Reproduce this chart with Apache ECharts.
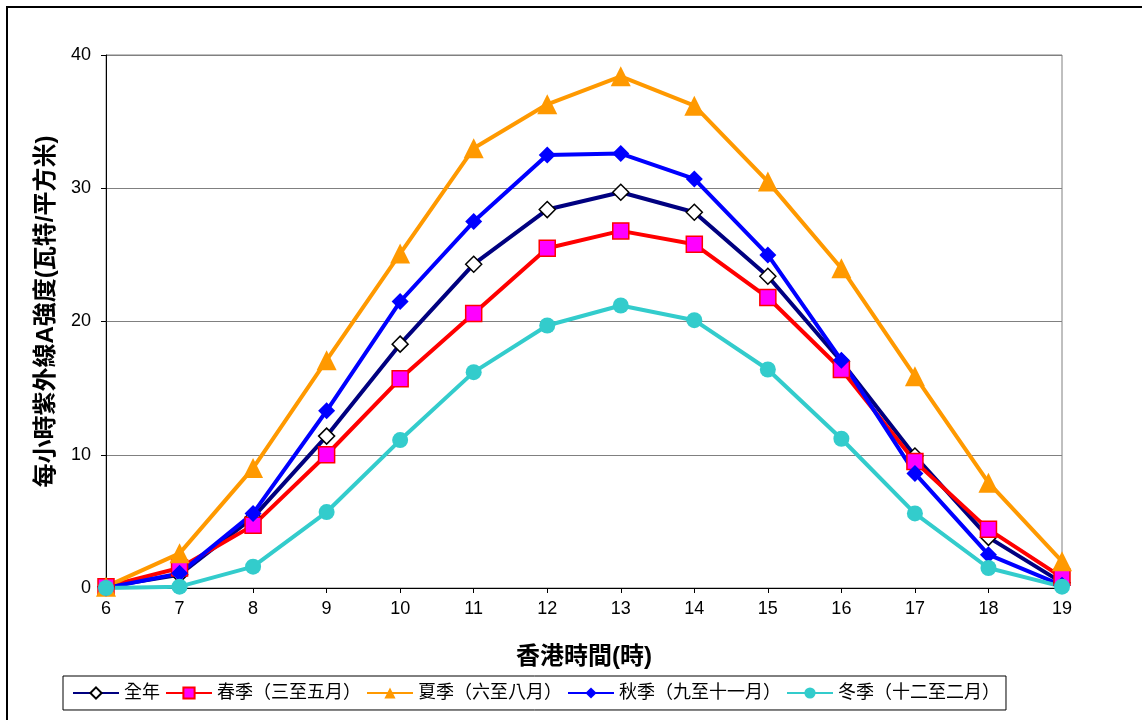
<!DOCTYPE html>
<html>
<head>
<meta charset="utf-8">
<script src="https://cdn.jsdelivr.net/npm/echarts@6/dist/echarts.min.js"></script>
<style>
html,body{margin:0;padding:0;background:#fff;}
#chart{width:1142px;height:720px;}
</style>
</head>
<body>
<div id="chart"></div>
<script>
const hours = ['6','7','8','9','10','11','12','13','14','15','16','17','18','19'];
const seriesNames = ['全年','春季（三至五月）','夏季（六至八月）','秋季（九至十一月）','冬季（十二至二月）'];
const annual = [0.1, 1.0, 5.3, 11.4, 18.3, 24.3, 28.4, 29.7, 28.2, 23.4, 17.0, 9.9, 3.8, 0.4];
const spring = [0.1, 1.5, 4.7, 10.0, 15.7, 20.6, 25.5, 26.8, 25.8, 21.8, 16.4, 9.5, 4.4, 0.8];
const summer = [0.1, 2.6, 9.0, 17.1, 25.1, 33.0, 36.3, 38.4, 36.2, 30.5, 24.0, 15.9, 7.9, 2.0];
const autumn = [0.0, 1.1, 5.6, 13.3, 21.5, 27.5, 32.5, 32.6, 30.7, 25.0, 17.1, 8.6, 2.5, 0.2];
const winter = [0.0, 0.1, 1.6, 5.7, 11.1, 16.2, 19.7, 21.2, 20.1, 16.4, 11.2, 5.6, 1.5, 0.1];
const yTicks = [0, 10, 20, 30, 40];
const xTitle = '香港時間(時)';
const yTitle = '每小時紫外線A強度(瓦特/平方米)';

const FONT = '"Liberation Sans", Arial, "Noto Sans CJK TC", sans-serif';

function mk(name, data, lineColor, symbol, size, fill, border) {
  return {
    name: name, type: 'line', data: data, clip: false,
    symbol: symbol, symbolSize: size,
    lineStyle: {color: lineColor, width: 4},
    itemStyle: {color: fill, borderColor: border, borderWidth: border === fill ? 0 : 1.5},
    emphasis: {disabled: true}
  };
}

const chart = echarts.init(document.getElementById('chart'), null, {renderer: 'canvas'});
chart.setOption({
  animation: false,
  backgroundColor: '#fff',
  textStyle: {fontFamily: FONT},
  graphic: [{
    type: 'rect', shape: {x: 7, y: 7, width: 1300, height: 900},
    style: {fill: 'none', stroke: '#000', lineWidth: 2}, silent: true, z: -1
  }],
  grid: {left: 106, right: 80, top: 55, bottom: 132, containLabel: false, outerBoundsMode: 'none',
         show: true, borderColor: '#808080', borderWidth: 1, backgroundColor: 'transparent'},
  legend: {
    left: 63, top: 676, orient: 'horizontal',
    borderColor: '#000', borderWidth: 1, padding: [8, 6, 8, 9],
    itemGap: 5, itemWidth: 46, itemHeight: 14,
    textStyle: {fontSize: 18, color: '#000', fontFamily: FONT},
    data: seriesNames
  },
  xAxis: {
    type: 'category', data: hours, boundaryGap: false,
    name: xTitle, nameLocation: 'middle', nameGap: 57,
    nameTextStyle: {fontSize: 24, fontWeight: 'bold', color: '#000', fontFamily: FONT},
    axisLine: {lineStyle: {color: '#000', width: 1}},
    axisTick: {show: true, length: 5, lineStyle: {color: '#000'}},
    axisLabel: {fontSize: 18, color: '#000', margin: 12, fontFamily: FONT},
    splitLine: {show: false}
  },
  yAxis: {
    type: 'value', min: 0, max: 40, interval: 10,
    name: yTitle, nameLocation: 'middle', nameRotate: 90, nameGap: 48,
    nameTextStyle: {fontSize: 24, fontWeight: 'bold', color: '#000', fontFamily: FONT,
                    padding: [0, 0, 0, 20]},
    axisLine: {show: true, lineStyle: {color: '#000', width: 1}},
    axisTick: {show: true, length: 5, lineStyle: {color: '#000'}},
    axisLabel: {fontSize: 18, color: '#000', margin: 15, fontFamily: FONT,
      formatter: function (v) { return yTicks.indexOf(v) >= 0 ? String(v) : ''; }},
    splitLine: {show: true, lineStyle: {color: '#808080', width: 1}}
  },
  series: [
    mk(seriesNames[0], annual, '#000080', 'diamond', 16, '#ffffff', '#000000'),
    mk(seriesNames[1], spring, '#FF0000', 'rect', 16, '#FF00FF', '#FF0000'),
    mk(seriesNames[2], summer, '#FF9900', 'triangle', 20, '#FF9900', '#FF9900'),
    mk(seriesNames[3], autumn, '#0000FF', 'diamond', 17, '#0000FF', '#0000FF'),
    mk(seriesNames[4], winter, '#33CCCC', 'circle', 16, '#33CCCC', '#33CCCC')
  ]
});
</script>
</body>
</html>
